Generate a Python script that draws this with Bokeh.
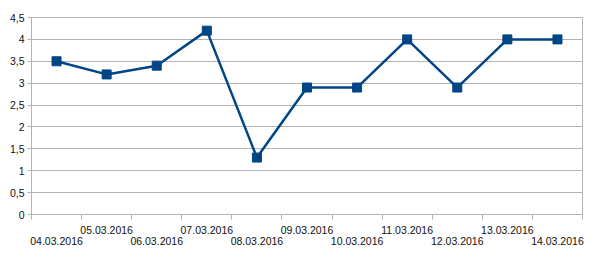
from bokeh.plotting import figure
from bokeh.models import FixedTicker, LinearAxis, Range1d, ColumnDataSource
from bokeh.embed import file_html
from bokeh.resources import INLINE

dates = ["04.03.2016", "05.03.2016", "06.03.2016", "07.03.2016", "08.03.2016", "09.03.2016",
         "10.03.2016", "11.03.2016", "12.03.2016", "13.03.2016", "14.03.2016"]
values = [3.5, 3.2, 3.4, 4.2, 1.3, 2.9, 2.9, 4.0, 2.9, 4.0, 4.0]
y_ticks = [0, 0.5, 1, 1.5, 2, 2.5, 3, 3.5, 4, 4.5]

LINE = "#004586"
GRID = "#b3b3b3"
FONT = "Liberation Sans"
FS = "10.5px"
TXT = "#111111"

n = len(dates)
xs = [i + 0.5 for i in range(n)]
src = ColumnDataSource(dict(x=xs, y=values))

p = figure(width=600, height=262, output_backend="svg", toolbar_location=None,
           x_range=Range1d(0, n), y_range=Range1d(0, 4.5),
           x_axis_location=None)
p.min_border_left = 31
p.min_border_right = 18
p.min_border_top = 17
p.min_border_bottom = 48
p.outline_line_color = GRID
p.background_fill_color = "white"
p.border_fill_color = "white"

p.xgrid.visible = False
p.ygrid.grid_line_color = GRID
p.ygrid.ticker = FixedTicker(ticks=y_ticks)

ya = p.yaxis[0]
ya.ticker = FixedTicker(ticks=y_ticks)
ya.major_label_overrides = {t: (str(t).replace(".", ",") if t % 1 else str(int(t))) for t in y_ticks}
ya.axis_line_color = GRID
ya.major_tick_line_color = GRID
ya.major_tick_out = 4
ya.major_tick_in = 0
ya.minor_tick_line_color = None
ya.major_label_text_font = FONT
ya.major_label_text_font_size = FS
ya.major_label_text_color = TXT
ya.major_label_standoff = 3

upper_idx = [i for i in range(n) if i % 2 == 1]
lower_idx = [i for i in range(n) if i % 2 == 0]

ax1 = LinearAxis(ticker=FixedTicker(ticks=[xs[i] for i in upper_idx],
                                    minor_ticks=list(range(n + 1))))
ax1.major_label_overrides = {xs[i]: dates[i] for i in upper_idx}
ax1.axis_line_color = GRID
ax1.major_tick_line_color = None
ax1.major_tick_out = 0
ax1.major_tick_in = 0
ax1.minor_tick_line_color = GRID
ax1.minor_tick_out = 5
ax1.minor_tick_in = 0
ax1.major_label_text_font = FONT
ax1.major_label_text_font_size = FS
ax1.major_label_text_color = TXT
ax1.major_label_standoff = 6
p.add_layout(ax1, "below")

ax2 = LinearAxis(ticker=FixedTicker(ticks=[xs[i] for i in lower_idx]))
ax2.major_label_overrides = {xs[i]: dates[i] for i in lower_idx}
ax2.axis_line_color = None
ax2.major_tick_line_color = None
ax2.minor_tick_line_color = None
ax2.major_tick_out = 0
ax2.major_tick_in = 0
ax2.major_label_text_font = FONT
ax2.major_label_text_font_size = FS
ax2.major_label_text_color = TXT
ax2.major_label_standoff = 0
p.add_layout(ax2, "below")

p.line("x", "y", source=src, line_color=LINE, line_width=2.5)
p.scatter("x", "y", source=src, marker="square", size=9, fill_color=LINE, line_color=LINE)

open("out.html", "w").write(file_html(p, INLINE))
